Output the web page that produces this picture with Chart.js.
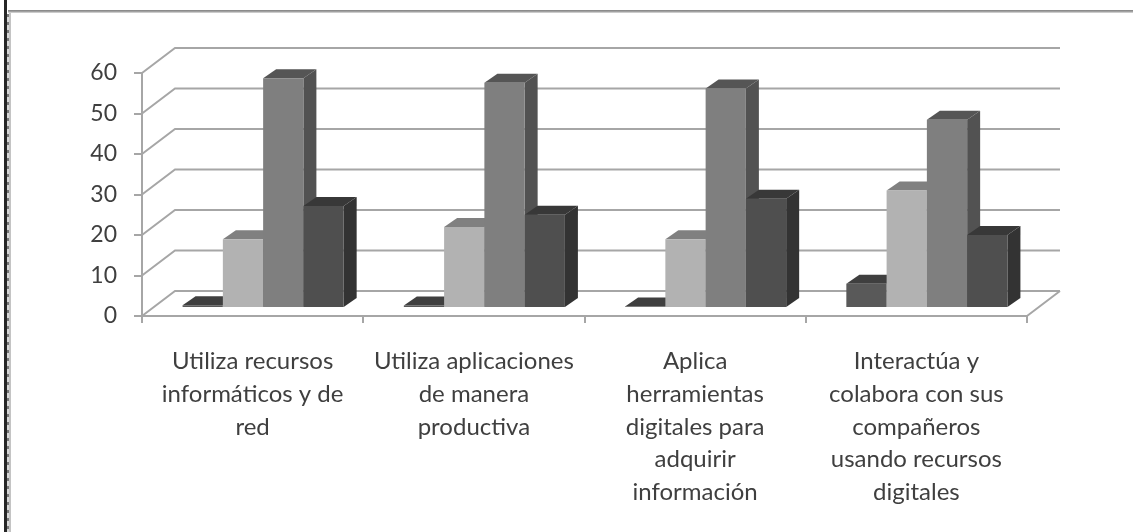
<!DOCTYPE html>
<html>
<head>
<meta charset="utf-8">
<style>
  html, body { margin: 0; padding: 0; background: #fff; overflow: hidden; }
  #wrap { position: relative; width: 1133px; height: 532px; }
  #chart { position: absolute; left: 0; top: 0; }
  .rule { position: absolute; }
  #edge-black { left: 4px; top: 0; width: 3px; height: 532px; background: #262626; }
  #edge-dots { left: 7px; top: 14px; width: 2px; height: 518px;
    background: repeating-linear-gradient(to bottom, #777 0 3px, #d8d8d8 3px 8px); }
  #edge-light { left: 9px; top: 11px; width: 2px; height: 521px; background: #c4c4c4; }
  #edge-top { left: 8px; top: 10px; right: 0; height: 3px;
    background: linear-gradient(to bottom, #808080, #a8a8a8 60%, #e4e4e4); }
</style>
</head>
<body>
<div id="wrap">
  <div class="rule" id="edge-black"></div>
  <div class="rule" id="edge-dots"></div>
  <div class="rule" id="edge-light"></div>
  <div class="rule" id="edge-top"></div>
  <canvas id="chart" width="1133" height="532"></canvas>
</div>
<script src="https://cdn.jsdelivr.net/npm/chart.js@4/dist/chart.umd.js"></script>
<script>
const categories = [
    ['Utiliza recursos', 'informáticos y de', 'red'],
    ['Utiliza aplicaciones', 'de manera', 'productiva'],
    ['Aplica', 'herramientas', 'digitales para', 'adquirir', 'información'],
    ['Interactúa y', 'colabora con sus', 'compañeros', 'usando recursos', 'digitales']
];
const serie1 = [0.7, 0.6, 0.4, 6];
const serie2 = [17, 20, 17, 29];
const serie3 = [56.7, 55.6, 54.2, 46.5];
const serie4 = [25.2, 23, 27, 18];

const frontColors = ['#595959', '#b2b2b2', '#7f7f7f', '#4f4f4f'];
const topColors = ['#3f3f3f', '#808080', '#555555', '#383838'];
const sideColors = ['#333333', '#6e6e6e', '#525252', '#333333'];

const AXIS_COLOR = '#a6a6a6';
const TEXT_COLOR = '#3f3f3f';

// Depth of the chart box and of the bars, in pixels
const WALL_DX = 33, WALL_DY = 25;
const BAR_SHIFT_X = 10.5, BAR_SHIFT_Y = 8;
const BAR_DX = 13, BAR_DY = 9;

function fillPoly(ctx, color, pts) {
    ctx.fillStyle = color;
    ctx.beginPath();
    ctx.moveTo(pts[0][0], pts[0][1]);
    for (let i = 1; i < pts.length; i++) ctx.lineTo(pts[i][0], pts[i][1]);
    ctx.closePath();
    ctx.fill();
}

// Back wall lines, floor and the slanted connectors to the value axis
function drawWalls(chart) {
    const ctx = chart.ctx;
    const x = chart.scales.x, y = chart.scales.y;
    ctx.save();
    ctx.strokeStyle = AXIS_COLOR;
    ctx.lineWidth = 2;
    ctx.beginPath();
    y.ticks.forEach(t => {
        const py = y.getPixelForValue(t.value);
        ctx.moveTo(x.left, py);
        ctx.lineTo(x.left + WALL_DX, py - WALL_DY);
        ctx.lineTo(x.right + WALL_DX, py - WALL_DY);
    });
    const py0 = y.getPixelForValue(0);
    ctx.moveTo(x.right, py0);
    ctx.lineTo(x.right + WALL_DX, py0 - WALL_DY);
    ctx.stroke();
    ctx.restore();
}

// Top and side faces first, so the next bar's front can cover them
function drawBarFaces(ctx, bar, s) {
    const p = bar.getProps(['x', 'y', 'width']);
    const left = p.x - p.width / 2, right = p.x + p.width / 2;
    const base = bar.base;
    fillPoly(ctx, topColors[s], [
        [left, p.y], [left + BAR_DX, p.y - BAR_DY],
        [right + BAR_DX, p.y - BAR_DY], [right, p.y]
    ]);
    fillPoly(ctx, sideColors[s], [
        [right, p.y], [right + BAR_DX, p.y - BAR_DY],
        [right + BAR_DX, base - BAR_DY], [right, base]
    ]);
}

const box3d = {
    id: 'box3d',
    beforeDatasetsDraw(chart) {
        const ctx = chart.ctx;
        drawWalls(chart);
        ctx.save();
        ctx.translate(BAR_SHIFT_X, -BAR_SHIFT_Y);
        chart.data.datasets.forEach((ds, s) => {
            const meta = chart.getDatasetMeta(s);
            meta.data.forEach(bar => drawBarFaces(ctx, bar, s));
            meta.controller.draw();
        });
        ctx.restore();
        return false;
    }
};

new Chart(document.getElementById('chart'), {
    type: 'bar',
    data: {
        labels: categories,
        datasets: [serie1, serie2, serie3, serie4].map((values, i) => ({
            label: 'Serie ' + (i + 1),
            data: values,
            backgroundColor: frontColors[i],
            categoryPercentage: 0.728,
            barPercentage: 1
        }))
    },
    options: {
        responsive: false,
        animation: false,
        layout: { padding: { left: 0, top: 73, right: 106, bottom: 0 } },
        plugins: { legend: { display: false }, tooltip: { enabled: false } },
        scales: {
            x: {
                afterFit(scale) { scale.height = 216; },
                border: { color: AXIS_COLOR, width: 2 },
                grid: { drawOnChartArea: false, color: AXIS_COLOR, lineWidth: 2, tickLength: 7 },
                ticks: {
                    maxRotation: 0,
                    autoSkip: false,
                    padding: 22,
                    color: TEXT_COLOR,
                    font: { family: 'Lato', size: 24, lineHeight: 1.364 }
                }
            },
            y: {
                min: 0,
                max: 60,
                afterFit(scale) { scale.width = 142; },
                border: { color: AXIS_COLOR, width: 2 },
                grid: { drawOnChartArea: false, color: AXIS_COLOR, lineWidth: 2, tickLength: 8 },
                ticks: {
                    stepSize: 10,
                    padding: 17,
                    color: TEXT_COLOR,
                    font: { family: 'Lato', size: 23 }
                }
            }
        }
    },
    plugins: [box3d]
});
</script>
</body>
</html>
